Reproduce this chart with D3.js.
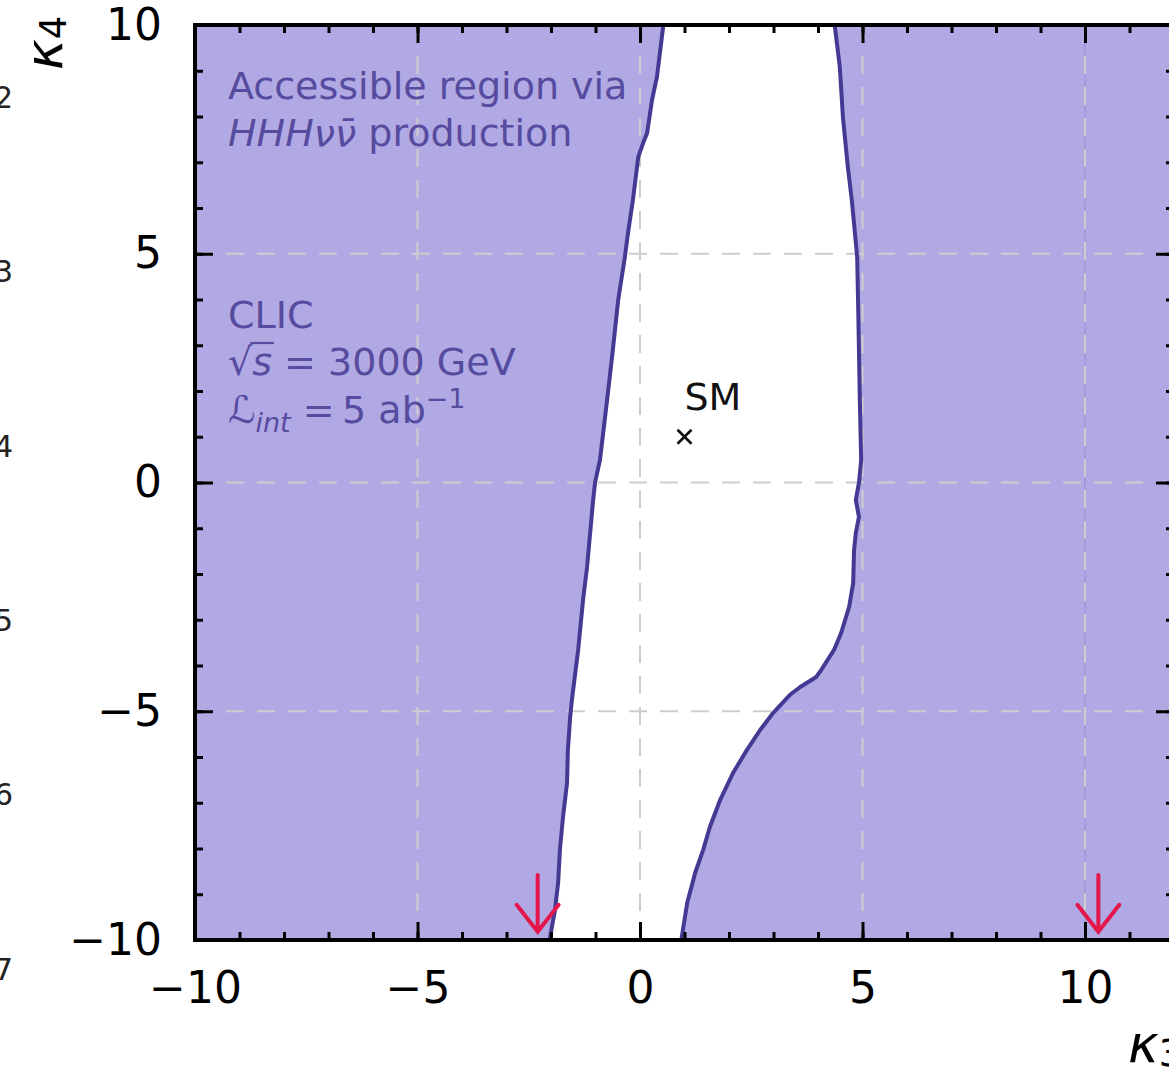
<!DOCTYPE html>
<html>
<head>
<meta charset="utf-8">
<script src="https://cdn.jsdelivr.net/npm/d3@7"></script>
<style>
  body { margin: 0; background: #fff; }
  text { font-family: "DejaVu Sans", sans-serif; }
</style>
</head>
<body>
<div id="chart"></div>
<script>
// boundary of the accessible region, [kappa3, kappa4]
var leftEdge = [
  [0.53, 10.2], [0.52, 9.96], [0.38, 8.86], [0.27, 8.36], [0.16, 7.64], [0.07, 7.42],
  [-0.04, 7.11], [-0.16, 6.17], [-0.27, 5.45], [-0.34, 4.93], [-0.49, 3.99], [-0.61, 2.90],
  [-0.74, 1.80], [-0.90, 0.49], [-1.01, 0.0], [-1.06, -0.45], [-1.12, -1.10], [-1.19, -1.85],
  [-1.28, -2.57], [-1.39, -3.66], [-1.53, -4.75], [-1.57, -5.13], [-1.62, -5.85], [-1.64, -6.57],
  [-1.73, -7.31], [-1.80, -8.03], [-1.84, -8.75], [-1.91, -9.34], [-2.02, -9.93], [-2.05, -10.2]
];
var rightEdge = [
  [4.37, 10.2], [4.38, 9.96], [4.49, 9.08], [4.56, 7.99], [4.67, 6.90], [4.76, 6.17],
  [4.83, 5.45], [4.88, 4.93], [4.90, 3.99], [4.92, 2.90], [4.94, 1.80], [4.97, 0.49],
  [4.92, -0.01], [4.85, -0.38], [4.92, -0.75], [4.85, -1.10], [4.81, -1.48], [4.79, -2.20],
  [4.70, -2.72], [4.52, -3.29], [4.36, -3.66], [4.07, -4.10], [3.96, -4.25], [3.60, -4.47],
  [3.37, -4.64], [2.99, -5.04], [2.70, -5.41], [2.40, -5.85], [2.09, -6.35], [1.80, -6.94],
  [1.57, -7.53], [1.42, -8.03], [1.24, -8.53], [1.06, -9.19], [0.94, -9.93], [0.90, -10.2]
];

var xMajor = [-10, -5, 0, 5, 10];
var yMajor = [-10, -5, 0, 5, 10];
var xMinor = d3.range(-10, 13, 1);
var yMinor = d3.range(-10, 11, 1);
var gridX = [-5, 0, 5, 10];
var gridY = [-5, 0, 5];
var smPoint = [1, 1];
var arrowK3 = [-2.3, 10.3];
var arrowTopK4 = -8.58, arrowTipK4 = -9.82;
var sideLabels = ["2", "3", "4", "5", "6", "7"];

var svgWidth = 1169;
var svgHeight = 1070;
var plot = { left: 195, top: 25, right: 1174, bottom: 940 };

var fillColor = "#b0a9e3";
var lineColor = "#443a94";
var noteColor = "#564b9e";

var svg = d3.select("#chart")
  .append("svg")
  .attr("width", svgWidth)
  .attr("height", svgHeight);

var xScale = d3.scaleLinear().domain([-10, 12]).range([plot.left, plot.right]);
var yScale = d3.scaleLinear().domain([-10, 10]).range([plot.bottom, plot.top]);

svg.append("clipPath").attr("id", "plotclip")
  .append("rect")
  .attr("x", plot.left).attr("y", plot.top)
  .attr("width", plot.right - plot.left).attr("height", plot.bottom - plot.top);

var area = svg.append("g").attr("clip-path", "url(#plotclip)");

// accessible region (purple) with the excluded band in white
area.append("rect")
  .attr("x", plot.left).attr("y", plot.top)
  .attr("width", plot.right - plot.left).attr("height", plot.bottom - plot.top)
  .attr("fill", fillColor);

// faint seam in the fill at kappa3 = 10
area.append("line")
  .attr("x1", xScale(10)).attr("x2", xScale(10))
  .attr("y1", plot.top).attr("y2", plot.bottom)
  .attr("stroke", "#9c93d6").attr("stroke-width", 1.2);

var line = d3.line().x(d => xScale(d[0])).y(d => yScale(d[1]));

area.append("path")
  .attr("d", line(leftEdge.concat(rightEdge.slice().reverse())) + "Z")
  .attr("fill", "#fff");

// grid
area.selectAll(".gx").data(gridX).enter().append("line")
  .attr("x1", d => xScale(d)).attr("x2", d => xScale(d))
  .attr("y1", plot.top).attr("y2", plot.bottom)
  .attr("stroke", "#cdcdcd").attr("stroke-width", 2)
  .attr("stroke-dasharray", "18,13");
area.selectAll(".gy").data(gridY).enter().append("line")
  .attr("x1", plot.left).attr("x2", plot.right)
  .attr("y1", d => yScale(d)).attr("y2", d => yScale(d))
  .attr("stroke", "#cdcdcd").attr("stroke-width", 2)
  .attr("stroke-dasharray", "18,13");

[leftEdge, rightEdge].forEach(function(edge) {
  area.append("path")
    .attr("d", line(edge))
    .attr("fill", "none")
    .attr("stroke", lineColor)
    .attr("stroke-width", 4)
    .attr("stroke-linejoin", "round");
});

// red arrows
arrowK3.forEach(function(k) {
  var x = xScale(k), y0 = yScale(arrowTopK4), y1 = yScale(arrowTipK4);
  svg.append("path")
    .attr("d", `M${x},${y0}L${x},${y1}M${x - 21},${y1 - 27}L${x},${y1}L${x + 21},${y1 - 27}`)
    .attr("fill", "none")
    .attr("stroke", "#e3174b")
    .attr("stroke-width", 4)
    .attr("stroke-linecap", "round")
    .attr("stroke-linejoin", "miter");
});

// SM point
var smX = xScale(smPoint[0]), smY = yScale(smPoint[1]);
svg.append("path")
  .attr("d", `M${smX - 7},${smY - 7}L${smX + 7},${smY + 7}M${smX - 7},${smY + 7}L${smX + 7},${smY - 7}`)
  .attr("stroke", "#111").attr("stroke-width", 2.6);
svg.append("text")
  .attr("x", smX).attr("y", smY - 27)
  .attr("font-size", 38).attr("fill", "#111")
  .text("SM");

// annotations
var notes = svg.append("g").attr("fill", noteColor).attr("font-size", 38);
notes.append("text").attr("x", 228).attr("y", 99).text("Accessible region via");
var t2 = notes.append("text").attr("x", 228).attr("y", 146);
t2.append("tspan").attr("font-style", "italic").text("HHH\u03bd\u03bd\u0304");
t2.append("tspan").text(" production");

notes.append("text").attr("x", 228).attr("y", 328).text("CLIC");
var t4 = notes.append("text").attr("x", 228).attr("y", 375);
t4.append("tspan").text("\u221a");
var sTs = t4.append("tspan").attr("font-style", "italic").text("s");
t4.append("tspan").text(" = 3000 GeV");
var sBox = sTs.node().getBBox();
notes.append("line")
  .attr("x1", sBox.x - 2).attr("x2", sBox.x + sBox.width + 2)
  .attr("y1", 375 - 32).attr("y2", 375 - 32)
  .attr("stroke", noteColor).attr("stroke-width", 2.2);

var t5 = notes.append("text").attr("x", 228).attr("y", 423);
t5.append("tspan").attr("font-style", "italic").text("\u2112");
t5.append("tspan").attr("font-style", "italic").attr("font-size", 27).attr("dy", 9).text("int");
t5.append("tspan").attr("dy", -9).text(" =\u20095 ab");
t5.append("tspan").attr("font-size", 27).attr("dy", -15).text("\u22121");

// axes
function styleAxis(g) {
  g.select(".domain").remove();
  g.selectAll(".tick line").attr("stroke", "#000").attr("stroke-width", 3);
  g.selectAll(".tick text").attr("fill", "#000").attr("font-size", 44)
    .attr("font-family", "DejaVu Sans");
}
var fmt = d => d3.format("")(d);

svg.append("g").attr("transform", `translate(0,${plot.bottom})`)
  .call(d3.axisBottom(xScale).tickValues(xMinor).tickSize(-8).tickFormat("")).call(styleAxis);
svg.append("g").attr("transform", `translate(0,${plot.top})`)
  .call(d3.axisTop(xScale).tickValues(xMinor).tickSize(-8).tickFormat("")).call(styleAxis);
svg.append("g").attr("transform", `translate(${plot.left},0)`)
  .call(d3.axisLeft(yScale).tickValues(yMinor).tickSize(-8).tickFormat("")).call(styleAxis);
svg.append("g").attr("transform", `translate(${plot.right},0)`)
  .call(d3.axisRight(yScale).tickValues(yMinor).tickSize(-8).tickFormat("")).call(styleAxis);

svg.append("g").attr("transform", `translate(0,${plot.bottom})`)
  .call(d3.axisBottom(xScale).tickValues(xMajor).tickSize(-18).tickPadding(32).tickFormat(fmt)).call(styleAxis);
svg.append("g").attr("transform", `translate(0,${plot.top})`)
  .call(d3.axisTop(xScale).tickValues(xMajor).tickSize(-18).tickFormat("")).call(styleAxis);
svg.append("g").attr("transform", `translate(${plot.left},0)`)
  .call(d3.axisLeft(yScale).tickValues(yMajor).tickSize(-18).tickPadding(33).tickFormat(fmt)).call(styleAxis);
svg.append("g").attr("transform", `translate(${plot.right},0)`)
  .call(d3.axisRight(yScale).tickValues(yMajor).tickSize(-18).tickFormat("")).call(styleAxis);

svg.append("rect")
  .attr("x", plot.left).attr("y", plot.top)
  .attr("width", plot.right - plot.left).attr("height", plot.bottom - plot.top)
  .attr("fill", "none").attr("stroke", "#000").attr("stroke-width", 4);

// axis labels
var yl = svg.append("text")
  .attr("transform", "translate(62,70) rotate(-90)")
  .attr("fill", "#000");
yl.append("tspan").attr("font-style", "italic").attr("font-size", 52).text("\u03ba");
yl.append("tspan").attr("font-size", 37).attr("dy", 4).text("4");

var xl = svg.append("text")
  .attr("x", 1128).attr("y", 1062)
  .attr("fill", "#000");
xl.append("tspan").attr("font-style", "italic").attr("font-size", 52).text("\u03ba");
xl.append("tspan").attr("font-size", 37).attr("dy", 4).text("3");

// cut-off labels of the neighbouring panel
svg.selectAll(".side").data(sideLabels).enter().append("text")
  .attr("x", 13)
  .attr("y", (d, i) => 108 + i * 174.3)
  .attr("text-anchor", "end")
  .attr("font-size", 30)
  .attr("fill", "#222")
  .text(d => d);
</script>
</body>
</html>
